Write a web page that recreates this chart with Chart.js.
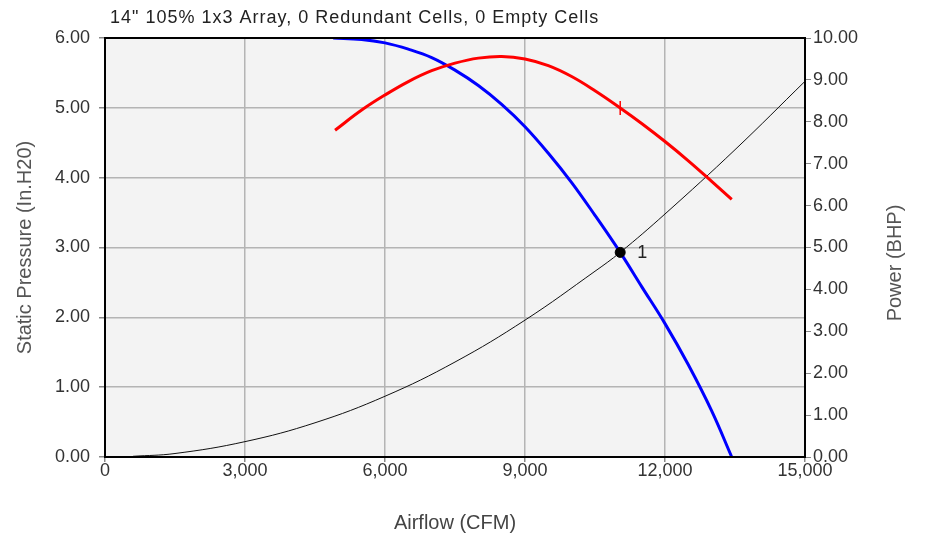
<!DOCTYPE html>
<html>
<head>
<meta charset="utf-8">
<script src="https://cdn.jsdelivr.net/npm/chart.js@4"></script>
<style>
  body { margin: 0; background: #fff; }
  canvas { display: block; }
</style>
</head>
<body>
<canvas id="fan-curve" width="926" height="535"></canvas>
<script>
  const chartTitle = "14\" 105% 1x3 Array, 0 Redundant Cells, 0 Empty Cells";
  const powerTitle = "Power (BHP)";

  // static pressure curve (In.H20)
  const pressureCfm = [4890, 5500, 6000, 6500, 7000, 7500, 8000, 8500, 9000, 9500, 10000, 10500, 11040, 11500, 12000, 12500, 13000, 13430];
  const pressureValues = [6.00, 5.98, 5.93, 5.84, 5.72, 5.54, 5.32, 5.05, 4.73, 4.35, 3.93, 3.46, 2.93, 2.44, 1.91, 1.32, 0.66, 0.00];

  // power curve (BHP)
  const powerCfm = [4930, 5500, 6000, 6500, 7000, 7500, 8000, 8500, 9000, 9500, 10000, 10500, 11040, 11500, 12000, 12500, 13000, 13430];
  const powerValues = [7.80, 8.28, 8.64, 8.96, 9.22, 9.40, 9.52, 9.56, 9.50, 9.34, 9.08, 8.74, 8.33, 7.96, 7.53, 7.07, 6.58, 6.15];

  // system curve (In.H20)
  const systemCfm = [600, 1500, 3000, 4500, 6000, 7500, 9000, 10500, 11040, 12000, 13500, 15000];
  const systemValues = [0.01, 0.05, 0.22, 0.49, 0.87, 1.36, 1.96, 2.66, 2.93, 3.48, 4.40, 5.38];

  // operating point
  const opCfm = 11040;
  const opPressure = 2.93;
  const opPower = 8.33;
  const opLabel = "1";

  const xTicks = [0, 3000, 6000, 9000, 12000, 15000];

  const toPoints = (xs, ys) => xs.map((x, i) => ({ x: x, y: ys[i] }));

  const fontFamily = "'Liberation Sans', Arial, sans-serif";
  const tickFont = { family: fontFamily, size: 18, lineHeight: 1 };
  const titleFont = { family: fontFamily, size: 20, lineHeight: 1.2 };

  const plotFrame = {
    id: "plotFrame",
    beforeDraw(chart) {
      const { ctx, chartArea: a } = chart;
      ctx.save();
      ctx.fillStyle = "#f3f3f3";
      ctx.fillRect(a.left, a.top, a.right - a.left, a.bottom - a.top);
      ctx.restore();
    },
    afterDraw(chart) {
      const { ctx, chartArea: a } = chart;
      ctx.save();
      ctx.strokeStyle = "#000";
      ctx.lineWidth = 2;
      ctx.strokeRect(a.left, a.top, a.right - a.left, a.bottom - a.top);

      // chart title, top left
      ctx.fillStyle = "#222";
      ctx.font = "18px " + fontFamily;
      ctx.textBaseline = "middle";
      ctx.textAlign = "left";
      ctx.letterSpacing = "1px";
      ctx.fillText(chartTitle, 110, 18);
      ctx.letterSpacing = "0px";

      // operating point label
      const pt = chart.getDatasetMeta(0).data[0];
      ctx.font = "18px " + fontFamily;
      ctx.fillText(opLabel, pt.x + 17, pt.y + 1);

      // right axis title reads bottom to top
      ctx.translate(895, 263);
      ctx.rotate(-Math.PI / 2);
      ctx.textAlign = "center";
      ctx.fillStyle = "#555";
      ctx.font = "20px " + fontFamily;
      ctx.fillText(powerTitle, 0, 0);
      ctx.restore();
    }
  };

  new Chart(document.getElementById("fan-curve"), {
    type: "line",
    data: {
      datasets: [
        {
          label: "Operating point",
          data: [{ x: opCfm, y: opPressure }],
          yAxisID: "y",
          showLine: false,
          pointRadius: 5,
          pointBackgroundColor: "#000",
          pointBorderColor: "#000",
        },
        {
          label: "Operating power",
          data: [{ x: opCfm, y: opPower }],
          yAxisID: "y2",
          showLine: false,
          pointStyle: "line",
          rotation: 90,
          pointRadius: 7,
          pointBorderColor: "#ff0000",
          pointBorderWidth: 1.5,
        },
        {
          label: "Power",
          data: toPoints(powerCfm, powerValues),
          yAxisID: "y2",
          borderColor: "#ff0000",
          borderWidth: 3,
          pointRadius: 0,
          tension: 0.4,
        },
        {
          label: "Static Pressure",
          data: toPoints(pressureCfm, pressureValues),
          yAxisID: "y",
          borderColor: "#0000ff",
          borderWidth: 3,
          pointRadius: 0,
          tension: 0.4,
        },
        {
          label: "System",
          data: toPoints(systemCfm, systemValues),
          yAxisID: "y",
          borderColor: "#111",
          borderWidth: 1,
          pointRadius: 0,
          tension: 0.4,
        },
      ],
    },
    options: {
      responsive: false,
      animation: false,
      layout: { padding: { top: 38, left: 0, right: 0, bottom: 0 } },
      plugins: {
        legend: { display: false },
        tooltip: { enabled: false },
      },
      scales: {
        x: {
          type: "linear",
          min: 0,
          max: 15000,
          afterBuildTicks: scale => { scale.ticks = xTicks.map(v => ({ value: v })); },
          ticks: {
            color: "#333",
            font: tickFont,
            padding: 0,
            maxRotation: 0,
            callback: v => v.toLocaleString("en-US"),
          },
          grid: { color: "#b4b4b4", lineWidth: 1.5, tickLength: 5, tickColor: "#888" },
          border: { color: "#000", width: 2 },
          title: { display: true, text: "Airflow (CFM)", color: "#444", font: titleFont, padding: { top: 2, bottom: 0 } },
          afterFit: scale => { scale.height = 78; },
        },
        y: {
          position: "left",
          min: 0,
          max: 6,
          ticks: {
            stepSize: 1,
            color: "#333",
            font: tickFont,
            padding: 9,
            callback: v => v.toFixed(2),
          },
          grid: { color: "#b4b4b4", lineWidth: 1.5, tickLength: 6, tickColor: "#888" },
          border: { color: "#000", width: 2 },
          title: { display: true, text: "Static Pressure (In.H20)", color: "#555", font: titleFont, padding: { top: 13, bottom: 0 } },
          afterFit: scale => { scale.width = 105; },
        },
        y2: {
          position: "right",
          min: 0,
          max: 10,
          ticks: {
            stepSize: 1,
            color: "#333",
            font: tickFont,
            padding: 2,
            callback: v => v.toFixed(2),
          },
          grid: { drawOnChartArea: false, tickLength: 6, tickColor: "#888" },
          border: { color: "#000", width: 2 },
          afterFit: scale => { scale.width = 121; },
        },
      },
    },
    plugins: [plotFrame],
  });
</script>
</body>
</html>
